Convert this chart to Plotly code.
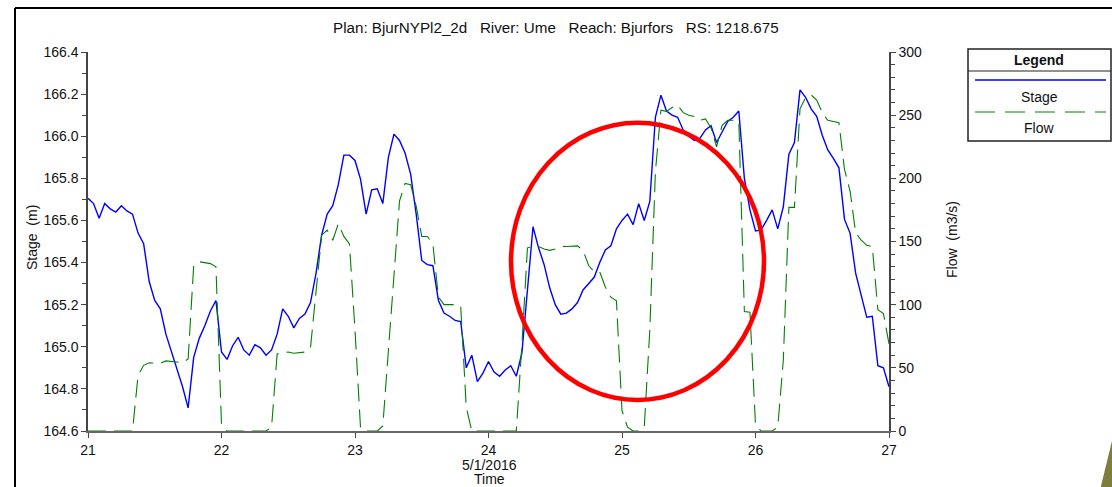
import pandas as pd
import plotly.graph_objects as go

# Hourly series, 21-27 May 2016
times = pd.date_range("2016-05-21 00:00", "2016-05-27 00:00", freq="h")

stage = [
    165.705, 165.68, 165.61, 165.68, 165.655, 165.64, 165.67, 165.645, 165.63, 165.54,
    165.49, 165.31, 165.22, 165.18, 165.06, 164.98, 164.89, 164.81, 164.71, 164.95,
    165.04, 165.10, 165.17, 165.22, 164.975, 164.94, 165.005, 165.045, 164.985, 164.96,
    165.01, 164.995, 164.96, 164.985, 165.06, 165.18, 165.145, 165.09, 165.135, 165.155,
    165.21, 165.35, 165.53, 165.63, 165.67, 165.77, 165.91, 165.91, 165.885, 165.795,
    165.63, 165.745, 165.75, 165.68, 165.90, 166.01, 165.98, 165.92, 165.82, 165.63,
    165.41, 165.39, 165.385, 165.22, 165.16, 165.145, 165.125, 165.12, 164.90, 164.96,
    164.835, 164.875, 164.93, 164.88, 164.86, 164.89, 164.91, 164.86, 164.97, 165.27,
    165.57, 165.47, 165.39, 165.28, 165.20, 165.155, 165.16, 165.18, 165.21, 165.27,
    165.30, 165.33, 165.40, 165.46, 165.48, 165.56, 165.60, 165.63, 165.58, 165.68,
    165.60, 165.69, 166.09, 166.195, 166.12, 166.10, 166.09, 166.03, 166.00, 165.98,
    165.99, 166.03, 166.05, 165.97, 166.02, 166.07, 166.09, 166.12, 165.80, 165.65,
    165.55, 165.555, 165.60, 165.65, 165.56, 165.665, 165.915, 165.97, 166.22, 166.185,
    166.13, 166.095, 166.005, 165.935, 165.895, 165.85, 165.605, 165.54, 165.35, 165.24,
    165.14, 165.145, 164.91, 164.90, 164.81,
]

flow = [
    0, 0, 0, 0, 0, 0, 0, 0, 0, 44,
    52, 54, 54, 53.5, 55.5, 55, 54, 54, 57, 131,
    134, 133, 132.5, 130, 5, 0, 0, 0, 0, 0,
    0, 0, 0, 3, 61, 62, 62.5, 61.5, 62, 62.5,
    66, 110, 155, 159, 151, 164, 154, 148, 80, 2,
    0, 0, 0, 4, 65, 125, 182, 196, 195, 178,
    154, 154, 148, 106, 100, 100, 100, 99, 19, 0,
    0, 0, 0, 0, 0, 0, 0, 0, 68, 145,
    146, 146, 144, 143, 144, 146, 146, 146, 146.5, 143,
    131, 126, 126, 114, 106, 103, 16, 3, 0, 0,
    3, 80, 205, 254, 253, 256, 258, 252, 250, 249,
    246, 247, 240, 225, 242, 246, 246, 245, 94.5, 94,
    5, 0, 0, 0, 3, 56, 177, 177, 255, 264,
    266, 262, 252, 246, 245, 244, 207, 190, 157, 151,
    147, 146, 96, 93, 69,
]

day_ticks = pd.date_range("2016-05-21", "2016-05-27", freq="D")
day_labels = ["21", "22", "23", "24", "25", "26", "27"]

title_text = "Plan: BjurNYPl2_2d   River: Ume   Reach: Bjurfors   RS: 1218.675"

W, H = 1112, 487
L, R, T, B = 88, 889, 52, 431
FONT = "Liberation Sans, Arial, sans-serif"


def px(x):
    return (x - L) / (R - L)


def py(y):
    return (B - y) / (B - T)


fig = go.Figure()
fig.add_trace(go.Scatter(
    x=times, y=stage, name="Stage", mode="lines",
    line=dict(color="#0000ff", width=1.4), showlegend=False,
))
fig.add_trace(go.Scatter(
    x=times, y=flow, name="Flow", mode="lines", yaxis="y2",
    line=dict(color="#008000", width=1.1, dash="18px,8px"), showlegend=False,
))

axis_common = dict(
    showgrid=False, zeroline=False, showline=True, linecolor="#444444", linewidth=1.5,
    ticks="outside", ticklen=5, tickcolor="#444444",
    tickfont=dict(family=FONT, size=14, color="#111111"),
)

fig.update_layout(
    width=W, height=H, autosize=False,
    margin=dict(l=L, r=W - R, t=T, b=H - B, pad=0),
    paper_bgcolor="white", plot_bgcolor="white",
    xaxis=dict(
        type="date", range=[day_ticks[0], day_ticks[-1]],
        tickvals=list(day_ticks), ticktext=day_labels,
        **{**axis_common, "linecolor": "#666666", "linewidth": 2},
    ),
    yaxis=dict(
        range=[164.6, 166.4], tickvals=[164.6, 164.8, 165.0, 165.2, 165.4, 165.6, 165.8, 166.0, 166.2, 166.4],
        tickformat=".1f",
        minor=dict(dtick=0.1, ticks="outside", ticklen=4, tickcolor="#444444"),
        **axis_common,
    ),
    yaxis2=dict(
        range=[0, 300], overlaying="y", side="right", dtick=50,
        minor=dict(dtick=10, ticks="outside", ticklen=4, tickcolor="#444444"),
        **axis_common,
    ),
)

shapes = []
annotations = []

# Outer frame (top and left edges)
shapes.append(dict(type="line", xref="paper", yref="paper", x0=px(15), x1=px(1115), y0=py(8), y1=py(8),
                   line=dict(color="black", width=2)))
shapes.append(dict(type="line", xref="paper", yref="paper", x0=px(15), x1=px(15), y0=py(8), y1=py(490),
                   line=dict(color="black", width=2)))

# Legend box
shapes.append(dict(type="rect", xref="paper", yref="paper", x0=px(968), x1=px(1111), y0=py(141), y1=py(49),
                   line=dict(color="#222222", width=1.5), fillcolor="white"))
shapes.append(dict(type="line", xref="paper", yref="paper", x0=px(968), x1=px(1111), y0=py(71), y1=py(71),
                   line=dict(color="#222222", width=1.2)))
shapes.append(dict(type="line", xref="paper", yref="paper", x0=px(975), x1=px(1106), y0=py(80), y1=py(80),
                   line=dict(color="#0000ff", width=1.6)))
shapes.append(dict(type="line", xref="paper", yref="paper", x0=px(975), x1=px(1106), y0=py(112), y1=py(112),
                   line=dict(color="#008000", width=1.1, dash="20px,10px")))

# Highlight ellipse
shapes.append(dict(type="circle", xref="paper", yref="paper", x0=px(511), x1=px(764), y0=py(400), y1=py(122.7),
                   line=dict(color="#ff0000", width=4.5)))

# Corner decoration
shapes.append(dict(type="path", xref="paper", yref="paper",
                   path=f"M {px(1100)} {py(490)} L {px(1113)} {py(437)} L {px(1113)} {py(490)} Z",
                   fillcolor="#7d7d3c", line=dict(width=0)))

def text(x, y, s, size=14, bold=False, angle=0):
    annotations.append(dict(
        xref="paper", yref="paper", x=px(x), y=py(y), text=f"<b>{s}</b>" if bold else s,
        showarrow=False, xanchor="center", yanchor="middle", textangle=angle,
        font=dict(family=FONT, size=size, color="#111111"),
    ))

text(556, 27, title_text, size=15.2)
text(1039, 60, "Legend", size=14, bold=True)
text(1039, 97, "Stage", size=14)
text(1039, 128, "Flow", size=14)
text(32, 238, "Stage  (m)", size=14, angle=-90)
text(952, 240, "Flow  (m3/s)", size=14, angle=-90)
text(489, 465, "5/1/2016", size=14)
text(489, 479, "Time", size=14)

fig.update_layout(shapes=shapes, annotations=annotations)

fig.write_html("out.html")
